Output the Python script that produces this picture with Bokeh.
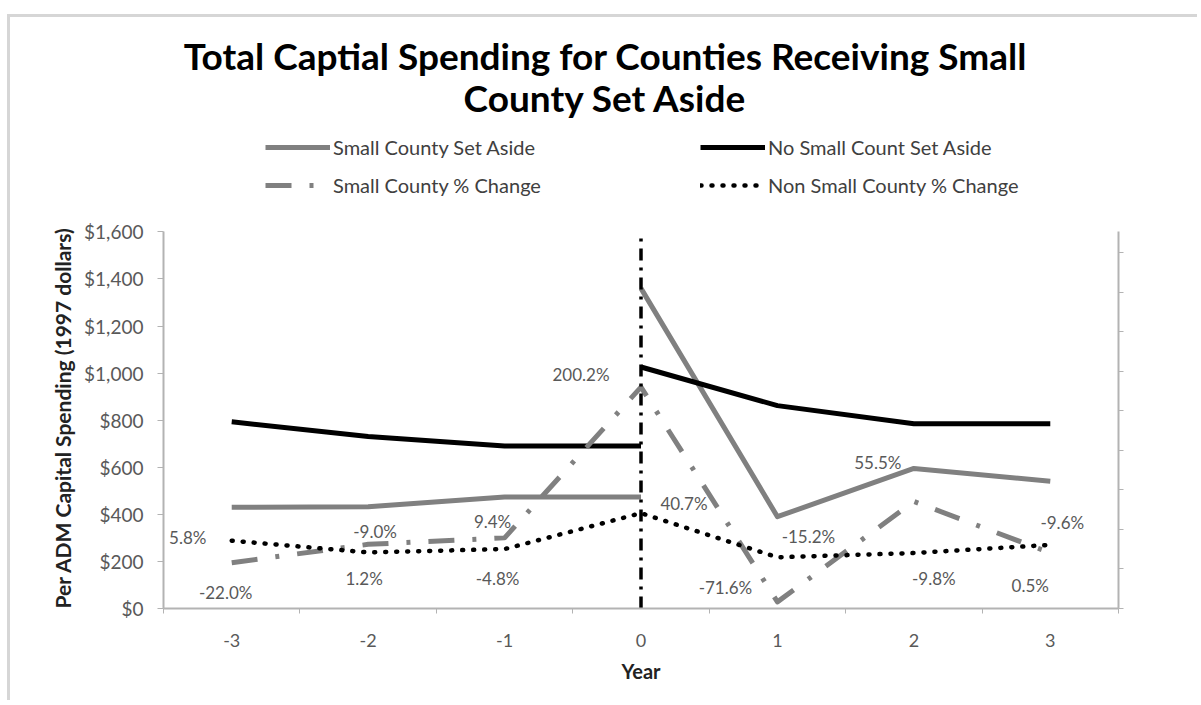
from bokeh.plotting import figure
from bokeh.models import (Range1d, LinearAxis, FixedTicker, NumeralTickFormatter,
                          Legend, LegendItem, Label, Title, CustomLabelingPolicy)
from bokeh.core.properties import value
from bokeh.embed import file_html
from bokeh.resources import INLINE

# ---------------- data ----------------
years = [-3, -2, -1, 0, 1, 2, 3]
pre_years = [-3, -2, -1, 0]
post_years = [0, 1, 2, 3]
policy_year = 0
small_set_aside_pre = [430, 432, 474, 474]
small_set_aside_post = [1360, 390, 595, 541]
no_small_set_aside_pre = [793, 731, 690, 690]
no_small_set_aside_post = [1026, 862, 785, 785]
small_pct_change = [-22.0, 1.2, 9.4, 200.2, -71.6, 55.5, -9.6]
non_small_pct_change = [5.8, -9.0, -4.8, 40.7, -15.2, -9.8, 0.5]
dollar_ticks = [0, 200, 400, 600, 800, 1000, 1200, 1400, 1600]
pct_ticks = [-80, -30, 20, 70, 120, 170, 220, 270, 320, 370]
year_labels = {y: str(y) for y in years}

# label placement (screen px offsets from each point)
small_lbl_dx = [-6, -4, -12, -60, -52, -36, 12]
small_lbl_dy = [30, 34, -16, -13, -14, -39, -30]
non_lbl_dx = [-44, 7, -7, 43, 31, 20, -20]
non_lbl_dy = [-3, -21, 29, -10, -21, 25, 41]

FONT = "Lato"
GRAY = "#808080"
TXT = "#595959"
AX = "#b3b3b3"

# layout: the frame runs to the top of the canvas so that title & legend sit inside it
W, H = 1190, 686
BORDER_L, BORDER_R, BORDER_B = 153, 82, 95
AXIS_PX = 376.6                      # pixel height of the 0..$1,600 axis
frame_h = H - BORDER_B
y_top = dollar_ticks[-1] * frame_h / AXIS_PX
pct_lo, pct_hi = -80, 396.7
pct_top = pct_lo + (pct_hi - pct_lo) * frame_h / AXIS_PX

p = figure(width=W, height=H, output_backend="svg", toolbar_location=None,
           x_range=Range1d(-3.5, 3.5), y_range=Range1d(0, y_top),
           min_border_left=BORDER_L, min_border_right=BORDER_R, min_border_top=0,
           min_border_bottom=BORDER_B,
           outline_line_color=None, background_fill_color="white", border_fill_color="white",
           x_axis_location=None, y_axis_location=None)
p.styles = {"margin-left": "7px", "margin-top": "14px",
            "border-top": "3px solid #d6d6d6", "border-left": "3px solid #d6d6d6"}
p.grid.visible = False
p.extra_y_ranges = {"pct": Range1d(pct_lo, pct_top)}

# axes
xax = LinearAxis(ticker=FixedTicker(ticks=years, minor_ticks=[-3.5, -2.5, -1.5, -0.5, 0.5, 1.5, 2.5, 3.5]),
                 axis_label="Year", major_label_overrides=year_labels)
xax.major_tick_out = 0
xax.major_tick_in = 0
xax.minor_tick_out = 5
xax.minor_tick_in = 0
xax.minor_tick_line_color = AX
xax.axis_line_color = AX
xax.axis_line_width = 2
xax.major_label_standoff = 20
xax.major_label_text_font = FONT
xax.major_label_text_font_size = "18px"
xax.major_label_text_color = TXT
xax.axis_label_text_font = FONT
xax.axis_label_text_font_size = "20px"
xax.axis_label_text_font_style = "bold"
xax.axis_label_text_color = "#222222"
xax.axis_label_standoff = 9
p.add_layout(xax, "below")

yax = LinearAxis(ticker=FixedTicker(ticks=dollar_ticks, minor_ticks=[]),
                 formatter=NumeralTickFormatter(format="$0,0"), bounds=(0, 1600))
yax.major_tick_out = 6
yax.major_tick_in = 0
yax.major_tick_line_color = AX
yax.axis_line_color = AX
yax.axis_line_width = 2
yax.major_label_standoff = 14
yax.major_label_text_font = FONT
yax.major_label_text_font_size = "19px"
yax.major_label_text_color = TXT
p.add_layout(yax, "left")

# y axis title, anchored at the bottom of the frame (aligned with the $0..$1,600 span)
p.add_layout(Title(text="Per ADM Capital Spending (1997 dollars)", align="left", standoff=13,
                   text_font=FONT, text_font_size="21px", text_font_style="bold",
                   text_color="#222222"), "left")

y2 = LinearAxis(y_range_name="pct", ticker=FixedTicker(ticks=pct_ticks, minor_ticks=[]),
                bounds=(pct_lo, pct_hi),
                major_label_policy=CustomLabelingPolicy(code="for (const i of indices) { if (i < 0) yield i }"))
y2.major_tick_out = 5
y2.major_tick_in = 0
y2.major_tick_line_color = AX
y2.axis_line_color = AX
y2.axis_line_width = 2
p.add_layout(y2, "right")

# series
r_small_pre = p.line(pre_years, small_set_aside_pre, line_color=GRAY, line_width=5, line_join="round")
p.line(post_years, small_set_aside_post, line_color=GRAY, line_width=5, line_join="round")
r_no_pre = p.line(pre_years, no_small_set_aside_pre, line_color="black", line_width=5, line_join="round")
p.line(post_years, no_small_set_aside_post, line_color="black", line_width=5, line_join="round")
r_small_pct = p.line(years, small_pct_change, y_range_name="pct", line_color=GRAY, line_width=5,
                     line_dash="26 18 4 18", line_join="round")
r_non_pct = p.line(years, non_small_pct_change, y_range_name="pct", line_color="black", line_width=4.5,
                   line_dash="1 10", line_cap="round")

# vertical policy line at year 0, over the axis height
p.segment(x0=[policy_year], y0=[dollar_ticks[0]], x1=[policy_year], y1=[dollar_ticks[-1]],
          line_color="black", line_width=3.5, line_dash="12 7 3 7")

# data labels
p.text(years, small_pct_change, text=[f"{v:.1f}%" for v in small_pct_change], y_range_name="pct",
       x_offset=small_lbl_dx, y_offset=small_lbl_dy, text_align="center", text_baseline="middle",
       text_font=value(FONT), text_font_size="17px", text_color=TXT)
p.text(years, non_small_pct_change, text=[f"{v:.1f}%" for v in non_small_pct_change], y_range_name="pct",
       x_offset=non_lbl_dx, y_offset=non_lbl_dy, text_align="center", text_baseline="middle",
       text_font=value(FONT), text_font_size="17px", text_color=TXT)

# legend
legend = Legend(items=[
    LegendItem(label="Small County Set Aside", renderers=[r_small_pre]),
    LegendItem(label="No Small Count Set Aside", renderers=[r_no_pre]),
    LegendItem(label="Small County % Change", renderers=[r_small_pct]),
    LegendItem(label="Non Small County % Change", renderers=[r_non_pct]),
], location=(102, 411), orientation="horizontal", ncols=2,
    glyph_width=65, glyph_height=20, label_height=20, label_width=353, label_standoff=3,
    spacing=14, padding=0, margin=0, border_line_color=None, background_fill_alpha=0,
    label_text_font=FONT, label_text_font_size="20px", label_text_color="#404040")
p.add_layout(legend, "center")

# title
for txt, yy in [("Total Captial Spending for Counties Receiving Small", 553),
                ("County Set Aside", 511)]:
    p.add_layout(Label(x=442, y=yy, x_units="screen", y_units="screen", text=txt,
                       text_align="center", text_baseline="middle", text_font=FONT,
                       text_font_size="37px", text_font_style="bold", text_color="black"))

open("out.html", "w").write(file_html(p, INLINE))
